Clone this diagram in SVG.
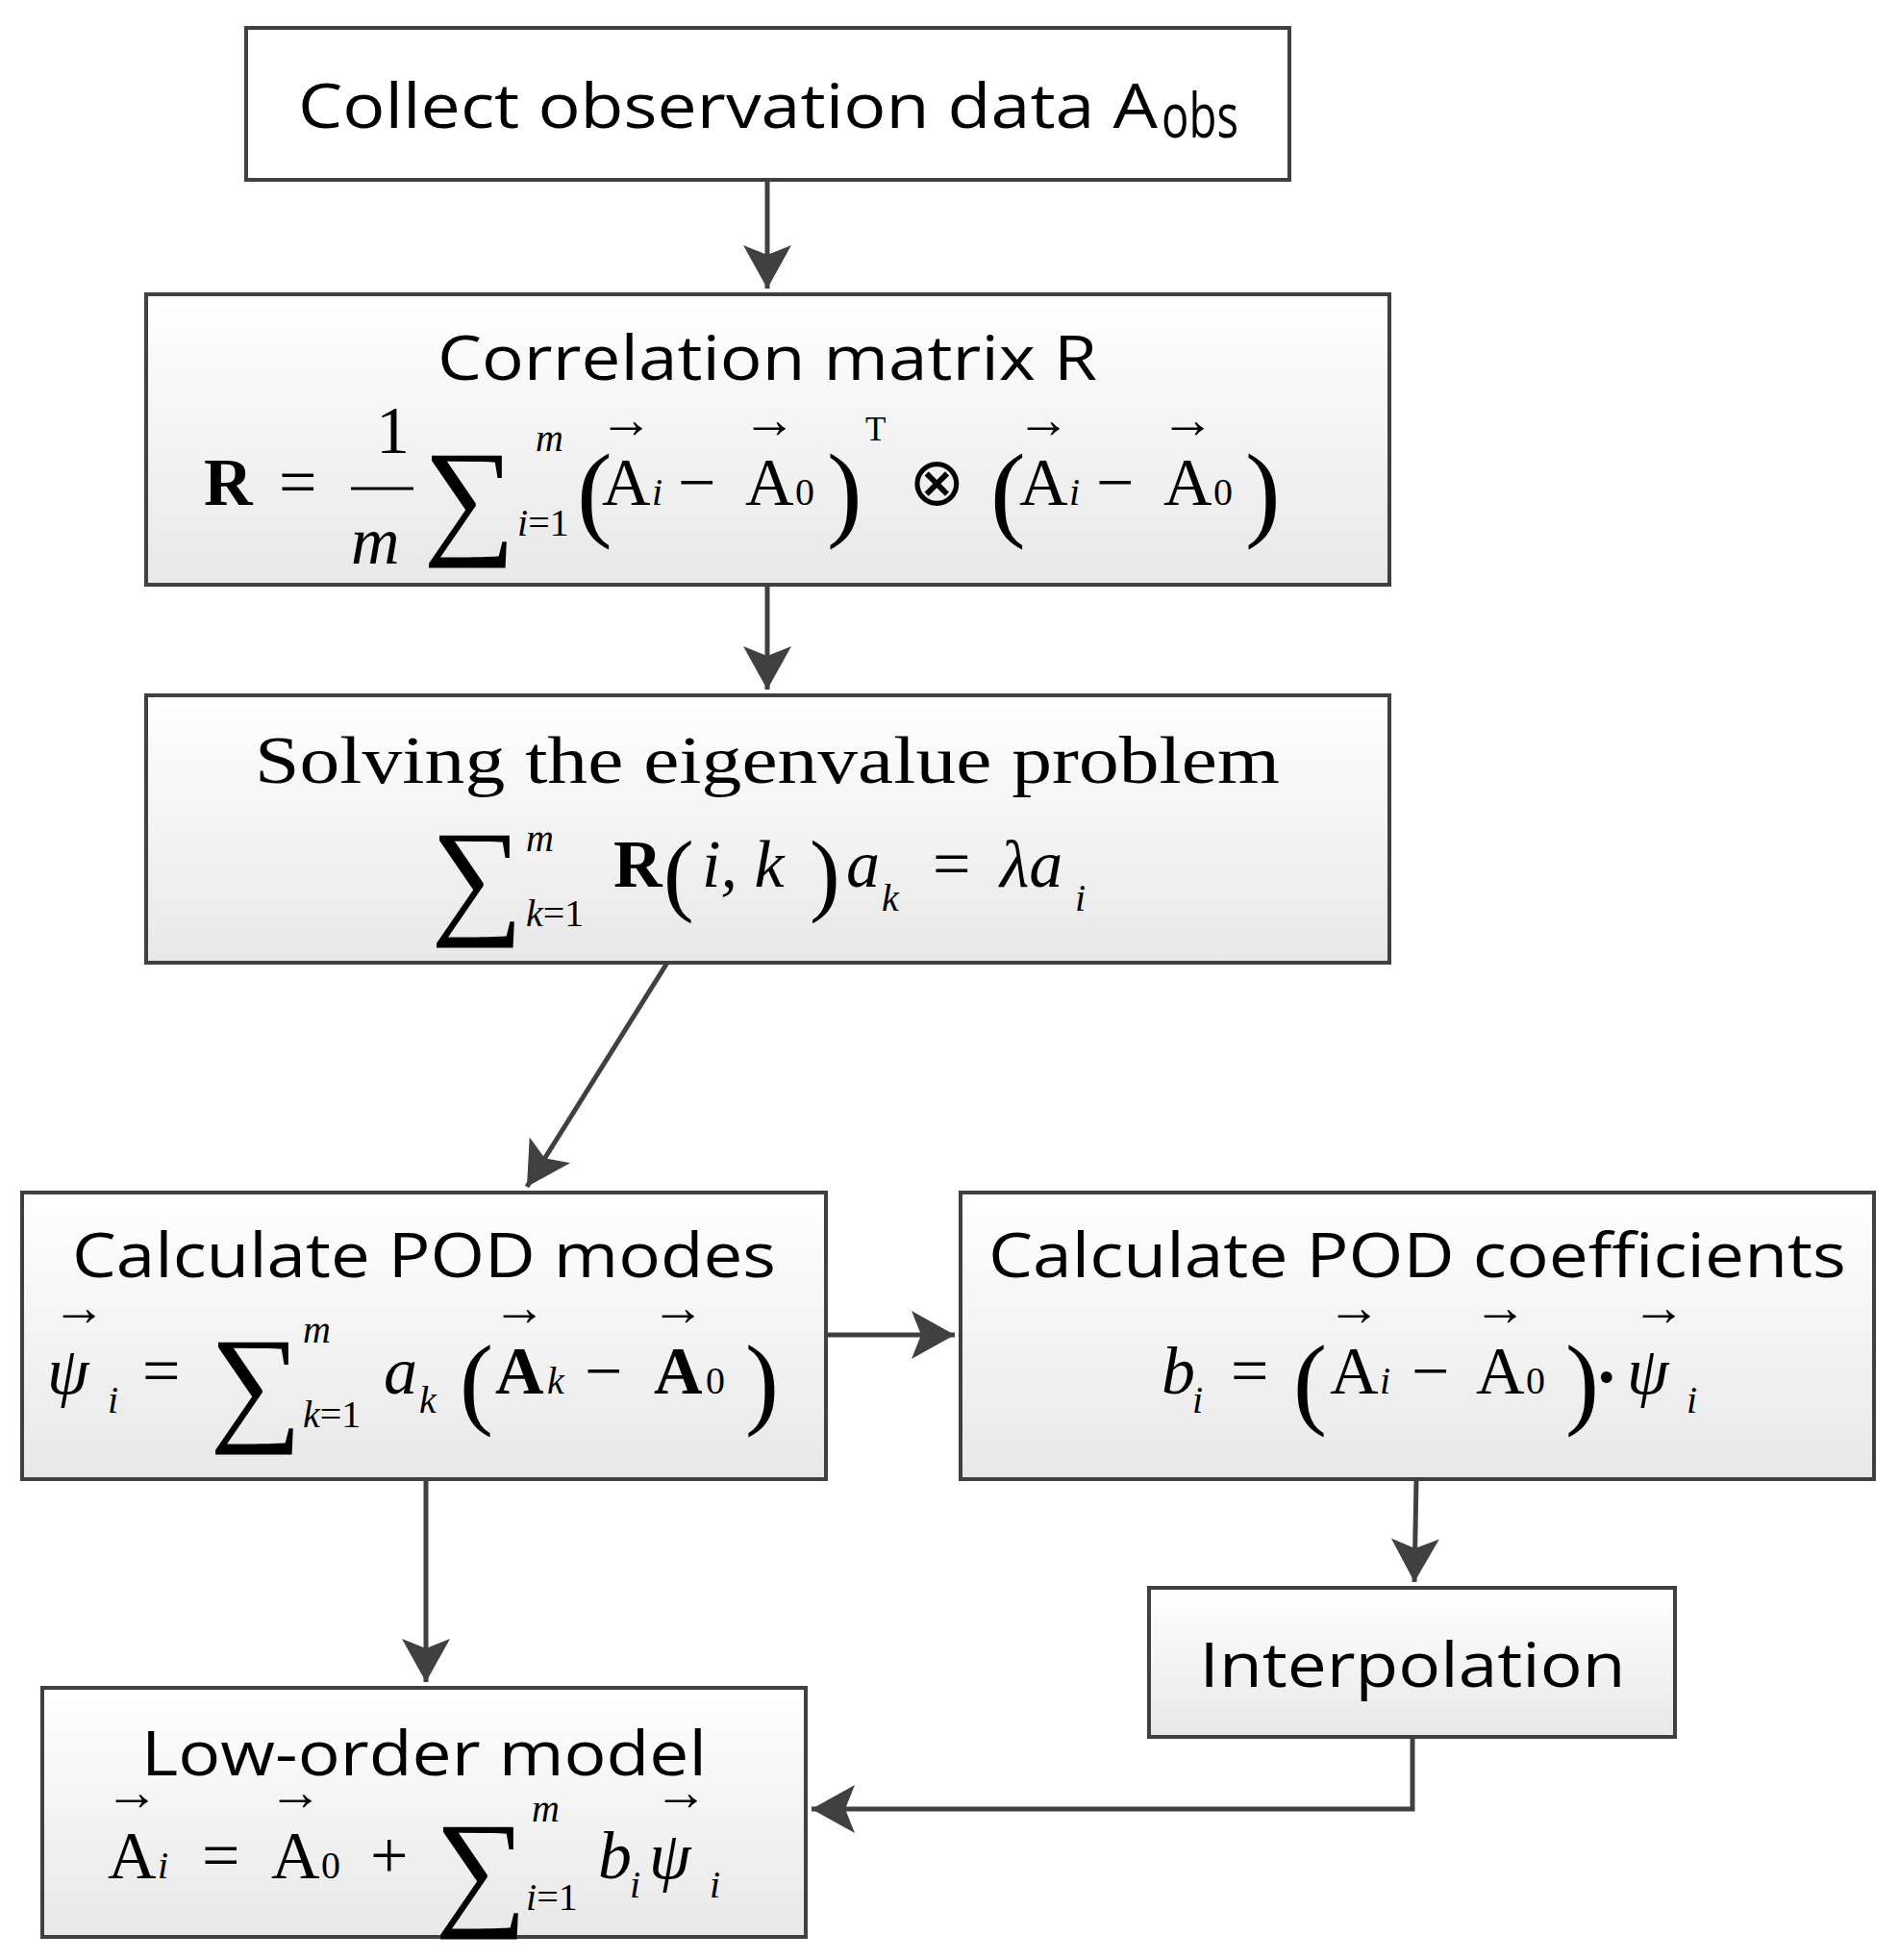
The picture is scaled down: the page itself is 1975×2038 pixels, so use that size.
<svg xmlns="http://www.w3.org/2000/svg" width="1975" height="2038" viewBox="0 0 1975 2038">
<style>
.b{stroke:#404040;stroke-width:4}
.s{font-family:"Open Sans","Liberation Sans",sans-serif;font-size:64px;fill:#000}
.m{font-family:"Liberation Serif",serif;fill:#000;font-size:70px}
.i{font-style:italic}
.sm{font-size:40px}
.sg{font-size:135px}
.ar{font-size:56px;text-anchor:middle}
.c{stroke:#404040;stroke-width:5;fill:none}
</style>
<defs>
<linearGradient id="g" x1="0" y1="0" x2="0" y2="1"><stop offset="0" stop-color="#ffffff"/><stop offset="1" stop-color="#e8e8e8"/></linearGradient>
<marker id="a" markerWidth="10" markerHeight="10" refX="9" refY="5" orient="auto" markerUnits="userSpaceOnUse" viewBox="0 0 10 10" style="overflow:visible"><path d="M-36,-20 L9,5 L-36,30 L-26,5 Z" fill="#404040"/></marker>
</defs>
<g id="connectors">
<line class="c" x1="798" y1="187" x2="798" y2="300" marker-end="url(#a)"/>
<line class="c" x1="798" y1="608" x2="798" y2="717" marker-end="url(#a)"/>
<line class="c" x1="694" y1="1001" x2="548" y2="1234" marker-end="url(#a)"/>
<line class="c" x1="859" y1="1388" x2="993" y2="1388" marker-end="url(#a)"/>
<line class="c" x1="443" y1="1538" x2="443" y2="1749" marker-end="url(#a)"/>
<line class="c" x1="1473" y1="1538" x2="1471" y2="1645" marker-end="url(#a)"/>
<polyline class="c" points="1469,1806 1469,1881 844,1881" marker-end="url(#a)"/>
</g>
<g id="n1"><rect class="b" x="256" y="29" width="1085" height="158" fill="#fff"/>
<text class="s" x="310" y="133" textLength="894" lengthAdjust="spacingAndGlyphs">Collect observation data A</text><text class="s" x="1208" y="143" font-size="40" textLength="80" lengthAdjust="spacingAndGlyphs">obs</text></g>
<g id="n2"><rect class="b" x="152" y="306" width="1293" height="302" fill="url(#g)"/>
<text class="s" x="798" y="395" text-anchor="middle" textLength="686" lengthAdjust="spacingAndGlyphs">Correlation matrix R</text>
<g class="m">
<text x="212" y="525" font-weight="bold">R</text><text x="290" y="525">=</text>
<text x="391" y="471">1</text><line x1="365" y1="508" x2="430" y2="508" stroke="#000" stroke-width="3"/>
<text x="365" y="586" class="i">m</text>
<text x="440" y="562" class="sg">∑</text><text x="557" y="469" class="sm i">m</text><text x="538" y="557" class="sm"><tspan class="i">i</tspan>=1</text>
<text x="600" y="548" font-size="110">(</text>
<text x="626" y="525">A</text><text x="651" y="455" class="ar">→</text><text x="678" y="525" class="sm i">i</text>
<text x="705" y="525">−</text>
<text x="775" y="525">A</text><text x="800" y="455" class="ar">→</text><text x="827" y="525" class="sm">0</text>
<text x="860" y="548" font-size="110">)</text><text x="900" y="458" font-size="35">T</text>
<text x="945" y="525">⊗</text>
<text x="1030" y="548" font-size="110">(</text>
<text x="1060" y="525">A</text><text x="1085" y="455" class="ar">→</text><text x="1112" y="525" class="sm i">i</text>
<text x="1140" y="525">−</text>
<text x="1210" y="525">A</text><text x="1235" y="455" class="ar">→</text><text x="1262" y="525" class="sm">0</text>
<text x="1295" y="548" font-size="110">)</text>
</g></g>
<g id="n3"><rect class="b" x="152" y="723" width="1293" height="278" fill="url(#g)"/>
<text class="m" x="798" y="814" text-anchor="middle" font-size="76" textLength="1066" lengthAdjust="spacingAndGlyphs">Solving the eigenvalue problem</text>
<g class="m">
<text x="448" y="957" class="sg">∑</text><text x="547" y="885" class="sm i">m</text><text x="547" y="963" class="sm"><tspan class="i">k</tspan>=1</text>
<text x="638" y="922" font-weight="bold">R</text><text x="690" y="940" font-size="95">(</text>
<text x="730" y="922" class="i">i, k</text><text x="842" y="940" font-size="95">)</text>
<text x="880" y="922" class="i">a</text><text x="917" y="947" class="sm i">k</text>
<text x="970" y="922">=</text><text x="1040" y="922" class="i">λa</text><text x="1118" y="947" class="sm i">i</text>
</g></g>
<g id="n4"><rect class="b" x="23" y="1240" width="836" height="298" fill="url(#g)"/>
<text class="s" x="441" y="1328" text-anchor="middle" textLength="732" lengthAdjust="spacingAndGlyphs">Calculate POD modes</text>
<g class="m">
<text x="49" y="1449" class="i">ψ</text><text x="82" y="1378" class="ar">→</text><text x="112" y="1469" class="sm i">i</text>
<text x="148" y="1449">=</text>
<text x="218" y="1484" class="sg">∑</text><text x="315" y="1396" class="sm i">m</text><text x="315" y="1484" class="sm"><tspan class="i">k</tspan>=1</text>
<text x="399" y="1449" class="i">a</text><text x="436" y="1469" class="sm i">k</text>
<text x="478" y="1472" font-size="105">(</text>
<text x="515" y="1449" font-weight="bold">A</text><text x="540" y="1378" class="ar">→</text><text x="569" y="1449" class="sm i">k</text>
<text x="608" y="1449">−</text>
<text x="680" y="1449" font-weight="bold">A</text><text x="705" y="1378" class="ar">→</text><text x="734" y="1449" class="sm">0</text>
<text x="775" y="1472" font-size="105">)</text>
</g></g>
<g id="n5"><rect class="b" x="999" y="1240" width="950" height="298" fill="url(#g)"/>
<text class="s" x="1474" y="1328" text-anchor="middle" textLength="892" lengthAdjust="spacingAndGlyphs">Calculate POD coefficients</text>
<g class="m">
<text x="1208" y="1449" class="i">b</text><text x="1240" y="1469" class="sm i">i</text>
<text x="1280" y="1449">=</text>
<text x="1345" y="1472" font-size="105">(</text>
<text x="1383" y="1449">A</text><text x="1408" y="1378" class="ar">→</text><text x="1435" y="1449" class="sm i">i</text>
<text x="1468" y="1449">−</text>
<text x="1535" y="1449">A</text><text x="1560" y="1378" class="ar">→</text><text x="1587" y="1449" class="sm">0</text>
<text x="1628" y="1472" font-size="105">)</text><text x="1662" y="1449" font-size="50">•</text>
<text x="1692" y="1449" class="i">ψ</text><text x="1725" y="1378" class="ar">→</text><text x="1754" y="1469" class="sm i">i</text>
</g></g>
<g id="n6"><rect class="b" x="1195" y="1651" width="547" height="155" fill="url(#g)"/>
<text class="s" x="1469" y="1754" text-anchor="middle" textLength="443" lengthAdjust="spacingAndGlyphs">Interpolation</text></g>
<g id="n7"><rect class="b" x="44" y="1755" width="794" height="259" fill="url(#g)"/>
<text class="s" x="441" y="1846" text-anchor="middle" textLength="588" lengthAdjust="spacingAndGlyphs">Low-order model</text>
<g class="m">
<text x="112" y="1953">A</text><text x="137" y="1882" class="ar">→</text><text x="164" y="1953" class="sm i">i</text>
<text x="210" y="1953">=</text>
<text x="282" y="1953">A</text><text x="307" y="1882" class="ar">→</text><text x="334" y="1953" class="sm">0</text>
<text x="385" y="1953">+</text>
<text x="452" y="1988" class="sg">∑</text><text x="553" y="1894" class="sm i">m</text><text x="547" y="1986" class="sm"><tspan class="i">i</tspan>=1</text>
<text x="622" y="1953" class="i">b</text><text x="655" y="1973" class="sm i">i</text>
<text x="675" y="1953" class="i">ψ</text><text x="708" y="1882" class="ar">→</text><text x="738" y="1973" class="sm i">i</text>
</g></g>
</svg>
